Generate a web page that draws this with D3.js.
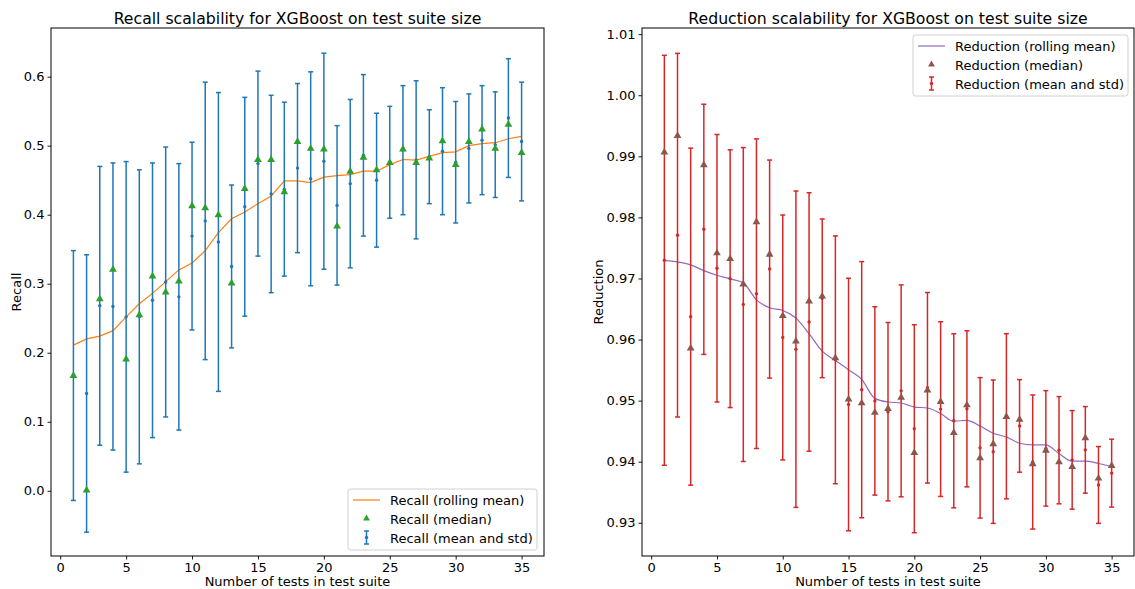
<!DOCTYPE html>
<html>
<head>
<meta charset="utf-8">
<script src="https://cdn.jsdelivr.net/npm/d3@7"></script>
<style>
  body { margin: 0; background: #fff; }
  svg { font-family: "DejaVu Sans", sans-serif; }
</style>
</head>
<body>
<svg id="chart" width="1135" height="589"></svg>
<script>
// test suite sizes
var sizes = d3.range(1, 36);

// Recall panel
var recallMean = [0.167, 0.141, 0.268, 0.267, 0.252, 0.252, 0.276, 0.3025, 0.281, 0.369,
    0.391, 0.3605, 0.325, 0.4115, 0.474, 0.430, 0.437, 0.4675, 0.452, 0.4775,
    0.4135, 0.445, 0.486, 0.450, 0.476, 0.4935, 0.4795, 0.484, 0.492, 0.476,
    0.496, 0.508, 0.5015, 0.540, 0.506];
var recallStd = [0.181, 0.201, 0.202, 0.208, 0.225, 0.213, 0.199, 0.1955, 0.193, 0.136,
    0.201, 0.2165, 0.118, 0.1585, 0.134, 0.143, 0.126, 0.1225, 0.155, 0.1565,
    0.1155, 0.122, 0.117, 0.097, 0.081, 0.0935, 0.1145, 0.068, 0.092, 0.088,
    0.079, 0.079, 0.0765, 0.086, 0.086];
var recallMedian = [0.166, 0.000, 0.277, 0.320, 0.190, 0.254, 0.310, 0.287, 0.303, 0.412,
    0.409, 0.399, 0.300, 0.437, 0.479, 0.479, 0.432, 0.505, 0.495, 0.494,
    0.3825, 0.462, 0.482, 0.464, 0.4745, 0.494, 0.4745, 0.481, 0.506, 0.4716,
    0.505, 0.523, 0.495, 0.530, 0.489];
var recallRolling = [0.211, 0.220, 0.224, 0.232, 0.252, 0.271, 0.286, 0.303, 0.320, 0.330,
    0.348, 0.374, 0.394, 0.404, 0.416, 0.427, 0.449, 0.449, 0.4465, 0.4545,
    0.4566, 0.458, 0.463, 0.463, 0.4725, 0.480, 0.479, 0.4846, 0.490, 0.491,
    0.500, 0.503, 0.5043, 0.510, 0.5134];

// Reduction panel
var reductionMean = [0.97298, 0.97709, 0.96375, 0.97805, 0.97167, 0.96996, 0.96574, 0.96751, 0.97154, 0.96034,
    0.95842, 0.96288, 0.96675, 0.95668, 0.94936, 0.95179, 0.94995, 0.94819, 0.95160, 0.94540,
    0.95210, 0.94861, 0.94670, 0.94866, 0.94227, 0.94164, 0.94744, 0.94586, 0.93995, 0.94218,
    0.94188, 0.94030, 0.94194, 0.93619, 0.93813];
var reductionStd = [0.03356, 0.02977, 0.02759, 0.02048, 0.02190, 0.02110, 0.02570, 0.02535, 0.01785, 0.02005,
    0.02590, 0.02116, 0.01299, 0.02029, 0.02067, 0.02097, 0.01542, 0.01460, 0.01735, 0.01703,
    0.01560, 0.01430, 0.01425, 0.01278, 0.01150, 0.01174, 0.01352, 0.00758, 0.01098, 0.00945,
    0.00878, 0.00807, 0.00709, 0.00629, 0.00556];
var reductionMedian = [0.99057, 0.99330, 0.95850, 0.98850, 0.97407, 0.97314, 0.96896, 0.97918, 0.97386, 0.96382,
    0.95964, 0.96618, 0.96699, 0.95691, 0.95016, 0.94951, 0.94797, 0.94858, 0.95042, 0.94139,
    0.95163, 0.94972, 0.94466, 0.94918, 0.94052, 0.94281, 0.94727, 0.94683, 0.93954, 0.94176,
    0.93987, 0.93910, 0.94379, 0.93719, 0.93926];
var reductionRolling = [0.97297, 0.97271, 0.97222, 0.97129, 0.97052, 0.96993, 0.96928, 0.96650, 0.96520, 0.96475,
    0.96350, 0.96095, 0.95810, 0.95658, 0.95506, 0.95348, 0.95037, 0.94977, 0.94961, 0.94895,
    0.94879, 0.94788, 0.94662, 0.94678, 0.94585, 0.94466, 0.94405, 0.94302, 0.94275, 0.94275,
    0.94134, 0.94008, 0.94008, 0.93971, 0.93922];

var xTicks = [0, 5, 10, 15, 20, 25, 30, 35];
var recallTicks = [0.0, 0.1, 0.2, 0.3, 0.4, 0.5, 0.6];
var reductionTicks = [0.93, 0.94, 0.95, 0.96, 0.97, 0.98, 0.99, 1.00, 1.01];

var svg = d3.select('#chart');

function drawPanel(opt) {
    var g = svg.append('g');
    var x = d3.scaleLinear().domain([-0.7, 36.7]).range([opt.left, opt.right]);
    var y = d3.scaleLinear().domain(opt.yDomain).range([556, 28]);

    var rows = sizes.map(function(s, i) {
        return {x: s, mean: opt.mean[i], std: opt.std[i], median: opt.median[i], roll: opt.rolling[i]};
    });

    // rolling mean line
    var line = d3.line()
        .x(function(d){ return x(d.x); })
        .y(function(d){ return y(d.roll); });
    if (opt.curve) line.curve(opt.curve);
    g.append('path')
        .datum(rows)
        .attr('d', line)
        .style('fill', 'none')
        .style('stroke', opt.lineColor)
        .style('stroke-width', 1.2);

    // error bars
    var bars = g.append('g').selectAll('g').data(rows).enter().append('g');
    bars.append('line')
        .attr('x1', function(d){ return x(d.x); })
        .attr('x2', function(d){ return x(d.x); })
        .attr('y1', function(d){ return y(d.mean - d.std); })
        .attr('y2', function(d){ return y(d.mean + d.std); })
        .style('stroke', opt.barColor)
        .style('stroke-width', 1.5);
    [-1, 1].forEach(function(sign){
        bars.append('line')
            .attr('x1', function(d){ return x(d.x) - 2.5; })
            .attr('x2', function(d){ return x(d.x) + 2.5; })
            .attr('y1', function(d){ return y(d.mean + sign * d.std); })
            .attr('y2', function(d){ return y(d.mean + sign * d.std); })
            .style('stroke', opt.barColor)
            .style('stroke-width', 1.5);
    });
    bars.append('circle')
        .attr('cx', function(d){ return x(d.x); })
        .attr('cy', function(d){ return y(d.mean); })
        .attr('r', 1.7)
        .style('fill', opt.barColor);

    // medians
    var tri = d3.symbol().type(d3.symbolTriangle).size(26);
    g.append('g').selectAll('path').data(rows).enter().append('path')
        .attr('d', tri)
        .attr('transform', function(d){ return 'translate(' + x(d.x) + ',' + (y(d.median) - 0.5) + ')'; })
        .style('fill', opt.markerColor);

    // axes
    var xAxis = d3.axisBottom(x).tickValues(xTicks).tickSize(3.5).tickPadding(3).tickFormat(d3.format('d'));
    var yAxis = d3.axisLeft(y).tickValues(opt.yTicks).tickSize(3.5).tickPadding(3).tickFormat(opt.yFormat);
    var xa = g.append('g').attr('transform', 'translate(0,556)').call(xAxis);
    var ya = g.append('g').attr('transform', 'translate(' + opt.left + ',0)').call(yAxis);
    [xa, ya].forEach(function(a){
        a.select('.domain').remove();
        a.selectAll('text').style('font-size', '13px').style('fill', '#000').style('font-family', '"DejaVu Sans"');
        a.selectAll('line').style('stroke', '#000').style('stroke-width', 0.9);
    });

    // frame
    g.append('rect')
        .attr('x', opt.left).attr('y', 28)
        .attr('width', opt.right - opt.left).attr('height', 528)
        .style('fill', 'none').style('stroke', '#000').style('stroke-width', 1);

    var cx = (opt.left + opt.right) / 2;
    g.append('text').attr('x', cx).attr('y', 24).attr('text-anchor', 'middle')
        .style('font-size', '15.7px').text(opt.title);
    g.append('text').attr('x', cx).attr('y', 586).attr('text-anchor', 'middle')
        .style('font-size', '13px').text('Number of tests in test suite');
    g.append('text')
        .attr('transform', 'translate(' + opt.ylabelX + ',292) rotate(-90)')
        .attr('text-anchor', 'middle')
        .style('font-size', '13px').text(opt.ylabel);

    // legend
    var L = opt.legend;
    var lg = g.append('g').attr('transform', 'translate(' + L.x + ',' + L.y + ')');
    lg.append('rect').attr('width', L.w).attr('height', 61).attr('rx', 2.5)
        .style('fill', '#fff').style('fill-opacity', 0.8)
        .style('stroke', '#d0d0d0').style('stroke-width', 1);
    var names = [opt.ylabel + ' (rolling mean)', opt.ylabel + ' (median)', opt.ylabel + ' (mean and std)'];
    names.forEach(function(n, i){
        lg.append('text').attr('x', 42).attr('y', 16 + i * 19).style('font-size', '13px').text(n);
    });
    lg.append('line').attr('x1', 5).attr('x2', 32).attr('y1', 11).attr('y2', 11)
        .style('stroke', opt.lineColor).style('stroke-width', 1.2);
    lg.append('path').attr('d', d3.symbol().type(d3.symbolTriangle).size(20))
        .attr('transform', 'translate(18.5,29.5)').style('fill', opt.markerColor);
    lg.append('line').attr('x1', 18.5).attr('x2', 18.5).attr('y1', 42).attr('y2', 55)
        .style('stroke', opt.barColor).style('stroke-width', 1.5);
    [42, 55].forEach(function(yy){
        lg.append('line').attr('x1', 16).attr('x2', 21).attr('y1', yy).attr('y2', yy)
            .style('stroke', opt.barColor).style('stroke-width', 1.5);
    });
    lg.append('circle').attr('cx', 18.5).attr('cy', 48.5).attr('r', 1.7).style('fill', opt.barColor);
}

drawPanel({
    left: 51, right: 544,
    yDomain: [-0.0945, 0.6705],
    yTicks: recallTicks,
    yFormat: d3.format('.1f'),
    mean: recallMean, std: recallStd, median: recallMedian, rolling: recallRolling,
    barColor: '#1f77b4', markerColor: '#2ca02c', lineColor: '#ff7f0e',
    title: 'Recall scalability for XGBoost on test suite size',
    ylabel: 'Recall', ylabelX: 21,
    legend: {x: 348, y: 489, w: 189}
});

drawPanel({
    left: 642, right: 1134,
    yDomain: [0.92456, 1.01101],
    yTicks: reductionTicks,
    yFormat: d3.format('.2f'),
    mean: reductionMean, std: reductionStd, median: reductionMedian, rolling: reductionRolling,
    barColor: '#d62728', markerColor: '#8c564b', lineColor: '#9467bd',
    curve: d3.curveMonotoneX,
    title: 'Reduction scalability for XGBoost on test suite size',
    ylabel: 'Reduction', ylabelX: 603,
    legend: {x: 913, y: 35, w: 215}
});
</script>
</body>
</html>
